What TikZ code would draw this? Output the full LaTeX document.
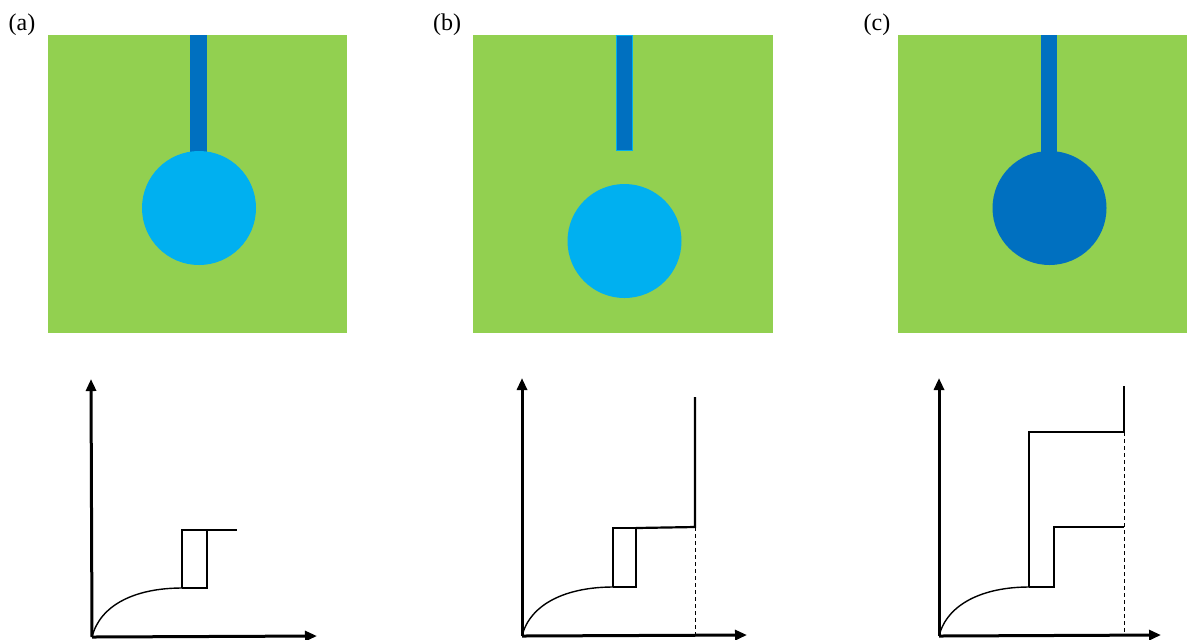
\documentclass[tikz,border=0pt]{standalone}
\usepackage{fontspec}
\setmainfont{Liberation Serif}
\usetikzlibrary{arrows.meta}
\definecolor{pgreen}{HTML}{92D050}
\definecolor{lblue}{HTML}{00B0F0}
\definecolor{dblue}{HTML}{0070C0}
\tikzset{
  board/.style={fill=pgreen},
  stem/.style={fill=dblue},
  axis/.style={line width=1.5pt,-{Triangle[length=6pt,width=5pt]}},
  trace/.style={line width=1.1pt},
  curv/.style={line width=0.7pt},
  guide/.style={line width=0.5pt,dashed,dash pattern=on 2pt off 1.5pt},
  lab/.style={font=\fontsize{12}{14}\selectfont,inner sep=0pt}
}
\begin{document}
\begin{tikzpicture}[x=0.5pt,y=-0.5pt]
\useasboundingbox (0,0) rectangle (1187,639);
% labels
\node[lab] (la) at (22,25) {(a)};
\node[lab] (lb) at (447,25) {(b)};
\node[lab] (lc) at (877,25) {(c)};
% panel a
\fill[board] (48,35) rectangle (347,333);
\fill[stem] (190,35) rectangle (207,160);
\fill[lblue] (199,208) circle (57);
% panel b
\fill[board] (473,35) rectangle (773,333);
\filldraw[stem,draw=lblue,line width=0.5pt] (616,35) rectangle (632,150);
\fill[lblue] (624.5,241) circle (57);
% panel c
\fill[board] (898,35) rectangle (1197,333);
\fill[stem] (1041,35) rectangle (1057,160);
\fill[dblue] (1049.5,208) circle (57);
% graph a
\coordinate (oa) at (92,637);
\coordinate (ya) at (91,379);
\coordinate (xa) at (317,636);
\draw[axis] (oa) -- (ya);
\draw[axis] (oa) -- (xa);
\coordinate (ca) at (182,588);
\draw[curv] (oa) .. controls (100,605) and (135,588) .. (ca);
\draw[trace] (ca) -- (182,530) -- (207,530) -- (207,588) -- (ca);
\draw[trace] (207,530) -- (237,530);
% graph b
\coordinate (ob) at (522,636);
\coordinate (yb) at (522,378);
\coordinate (xb) at (747,635);
\draw[axis] (ob) -- (yb);
\draw[axis] (ob) -- (xb);
\coordinate (cb) at (613,587);
\draw[curv] (ob) .. controls (530,604) and (566,587) .. (cb);
\draw[trace] (cb) -- (613,528) -- (636,528) -- (636,587) -- (cb);
\coordinate (kb) at (695,527);
\draw[trace] (636,528) -- (kb) -- (695,397);
\draw[guide] (kb) -- (695,636);
% graph c
\coordinate (oc) at (939,636);
\coordinate (yc) at (939,378);
\coordinate (xc) at (1161,635);
\draw[axis] (oc) -- (yc);
\draw[axis] (oc) -- (xc);
\coordinate (cc) at (1029,587);
\draw[curv] (oc) .. controls (947,604) and (983,587) .. (cc);
\draw[trace] (cc) -- (1029,432) -- (1124,432) -- (1124,386);
\draw[trace] (cc) -- (1054,587) -- (1054,527) -- (1124,527);
\draw[guide] (1124,432) -- (1124,636);
\end{tikzpicture}
\end{document}
